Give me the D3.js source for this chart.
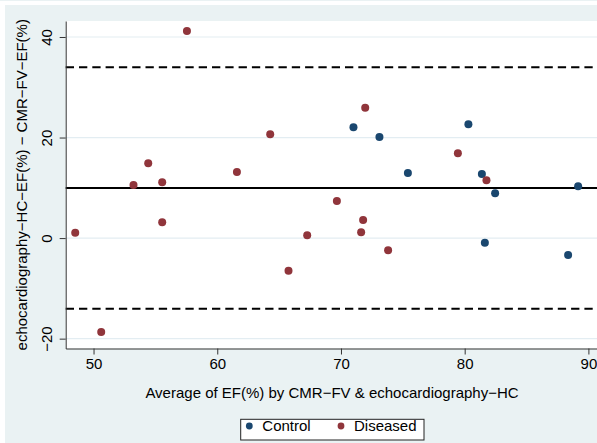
<!DOCTYPE html>
<html>
<head>
<meta charset="utf-8">
<script src="https://cdn.jsdelivr.net/npm/d3@7"></script>
<style>
  html, body { margin: 0; padding: 0; background: #fff; }
  svg { display: block; font-family: "Liberation Sans", Arial, Helvetica, sans-serif; }
</style>
</head>
<body>
<svg id="chart" width="597" height="443"></svg>
<script>
// Bland-Altman: average EF (x) vs difference (y)
var controlAvg  = [71.01, 73.11, 75.41, 80.30, 81.39, 82.46, 89.17, 81.63, 88.36];
var controlDiff = [22.04, 20.11, 12.95, 22.63, 12.75,  8.91, 10.30, -0.91, -3.36];

var diseasedAvg  = [57.55, 54.42, 53.23, 55.55, 61.59, 48.52, 55.55, 50.62, 71.96,
                    64.28, 69.67, 71.79, 71.63, 67.27, 73.81, 65.76, 79.45, 81.76];
var diseasedDiff = [41.19, 14.88, 10.56, 11.10, 13.15,  1.07,  3.14, -18.68, 25.93,
                    20.64,  7.38,  3.60,  1.15,  0.56, -2.43, -6.48, 16.87, 11.50];

var meanDiff = 9.96;
var upperLimit = 33.97;
var lowerLimit = -14.04;

var xTicks = [50, 60, 70, 80, 90];
var yTicks = [-20, 0, 20, 40];

var legendLabels = ["Control", "Diseased"];
var xTitle = "Average of EF(%) by CMR\u2212FV & echocardiography\u2212HC";
var yTitle = "echocardiography\u2212HC\u2212EF(%) \u2212 CMR\u2212FV\u2212EF(%)";

var controlColor = "#1a476f";
var diseasedColor = "#90353b";
var bgColor = "#eaf2f3";

var plotLeft = 65.7, plotRight = 598.3, plotTop = 21, plotBottom = 348.5;

var svg = d3.select("#chart");

// graph region
svg.append("rect")
    .attr("x", 5).attr("y", 5)
    .attr("width", 597).attr("height", 443)
    .attr("fill", bgColor);
svg.append("line")
    .attr("x1", 0).attr("x2", 597)
    .attr("y1", 0.5).attr("y2", 0.5)
    .attr("stroke", bgColor);

// plot region
svg.append("rect")
    .attr("x", plotLeft).attr("y", plotTop)
    .attr("width", plotRight - plotLeft).attr("height", plotBottom - plotTop)
    .attr("fill", "#fff");

var xScale = d3.scaleLinear()
    .domain([47.75, 90.8])
    .range([plotLeft, plotRight]);

var yScale = d3.scaleLinear()
    .domain([-21.96, 43.18])
    .range([plotBottom, plotTop]);

// gridlines
svg.selectAll("line.grid")
    .data(yTicks)
    .enter()
    .append("line")
    .attr("class", "grid")
    .attr("x1", plotLeft).attr("x2", plotRight)
    .attr("y1", function(d) { return yScale(d); })
    .attr("y2", function(d) { return yScale(d); })
    .attr("stroke", "#e3edf2")
    .attr("stroke-width", 1.2);

// mean and limits of agreement
function hLine(v, dashed) {
    svg.append("line")
        .attr("x1", plotLeft).attr("x2", plotRight)
        .attr("y1", yScale(v)).attr("y2", yScale(v))
        .attr("stroke", "#000")
        .attr("stroke-width", 2)
        .attr("stroke-dasharray", dashed ? "8.3,5" : null);
}
hLine(upperLimit, true);
hLine(lowerLimit, true);
hLine(meanDiff, false);

// markers
function points(xs, ys, color) {
    svg.append("g")
        .selectAll("circle")
        .data(xs)
        .enter()
        .append("circle")
        .attr("cx", function(d) { return xScale(d); })
        .attr("cy", function(d, i) { return yScale(ys[i]); })
        .attr("r", 4)
        .attr("fill", color);
}
points(controlAvg, controlDiff, controlColor);
points(diseasedAvg, diseasedDiff, diseasedColor);

// axes
var xAxis = svg.append("g")
    .attr("transform", "translate(0," + plotBottom + ")")
    .call(d3.axisBottom(xScale).tickValues(xTicks).tickSizeInner(6).tickSizeOuter(0).tickPadding(4));

var yAxis = svg.append("g")
    .attr("transform", "translate(" + plotLeft + ",0)")
    .call(d3.axisLeft(yScale).tickValues(yTicks).tickSizeInner(6).tickSizeOuter(0));

[xAxis, yAxis].forEach(function(ax) {
    ax.select(".domain").attr("stroke", "#333").attr("stroke-width", 1);
    ax.selectAll(".tick line").attr("stroke", "#333").attr("stroke-width", 1);
    ax.selectAll("text")
        .attr("font-family", "Liberation Sans, Arial, sans-serif")
        .attr("font-size", 15)
        .attr("fill", "#000");
});

yAxis.selectAll(".tick text")
    .attr("transform", "rotate(-90)")
    .attr("x", 0)
    .attr("y", -14)
    .attr("dy", null)
    .attr("text-anchor", "middle");

// axis titles
svg.append("text")
    .attr("x", (plotLeft + plotRight) / 2)
    .attr("y", 398)
    .attr("text-anchor", "middle")
    .attr("font-size", 15)
    .attr("fill", "#000")
    .text(xTitle);

svg.append("text")
    .attr("transform", "translate(26.5," + ((plotTop + plotBottom) / 2) + ") rotate(-90)")
    .attr("text-anchor", "middle")
    .attr("font-size", 15)
    .attr("fill", "#000")
    .text(yTitle);

// legend
var legend = svg.append("g");
legend.append("rect")
    .attr("x", 240.7).attr("y", 419.3)
    .attr("width", 183.3).attr("height", 20.7)
    .attr("fill", "#fff")
    .attr("stroke", "#222")
    .attr("stroke-width", 1);

var legendX = [249.3, 341];
var legendColors = [controlColor, diseasedColor];
legendLabels.forEach(function(lbl, i) {
    legend.append("circle")
        .attr("cx", legendX[i]).attr("cy", 426)
        .attr("r", 3.4)
        .attr("fill", legendColors[i]);
    legend.append("text")
        .attr("x", legendX[i] + 13)
        .attr("y", 431)
        .attr("font-size", 15)
        .attr("fill", "#000")
        .text(lbl);
});
</script>
</body>
</html>
